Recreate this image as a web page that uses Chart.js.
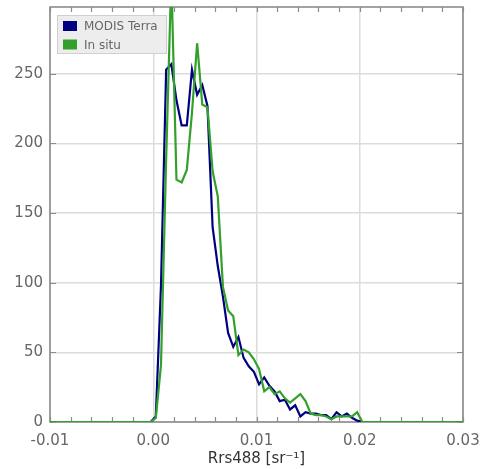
<!DOCTYPE html>
<html lang="en">
    <head>
        <meta charset="UTF-8">
        <title>Rrs488 histogram</title>
        <style>
            html, body { margin: 0; padding: 0; background: #fff; }
            .chart-container { position: relative; width: 481px; height: 469px; }
        </style>
    </head>
    <body>
        <div class="chart-container"><canvas id="chart"></canvas></div>

        <script src="https://cdn.jsdelivr.net/npm/chart.js@4.4.1/dist/chart.umd.min.js"></script>
        <script>
            // bin centres (sr^-1), with zero padding on both ends
            const binX = [-0.01, -0.00025,
                0.00025, 0.00075, 0.00125, 0.00175, 0.00225, 0.00275, 0.00325, 0.00375,
                0.00425, 0.00475, 0.00525, 0.00575, 0.00625, 0.00675, 0.00725, 0.00775,
                0.00825, 0.00875, 0.00925, 0.00975, 0.01025, 0.01075, 0.01125, 0.01175,
                0.01225, 0.01275, 0.01325, 0.01375, 0.01425, 0.01475, 0.01525, 0.01575,
                0.01625, 0.01675, 0.01725, 0.01775, 0.01825, 0.01875, 0.01925, 0.01975,
                0.02025, 0.03];

            const modisTerra = [0, 0,
                4, 98, 253, 257, 231, 213, 213, 253,
                235, 242, 227, 140, 112, 90, 64, 54,
                61, 46, 40, 36, 27, 32, 26, 22,
                15, 16, 9, 12, 4, 7, 6, 6,
                5, 5, 2, 7, 4, 6, 3, 1,
                0, 0];

            const inSitu = [0, 0,
                3, 41, 189, 320, 174, 172, 181, 222,
                272, 228, 226, 180, 162, 97, 80, 76,
                48, 52, 50, 45, 38, 22, 25, 20,
                22, 17, 14, 17, 20, 15, 6, 5,
                5, 4, 2, 4, 4, 4, 4, 7,
                0, 0];

            const seriesNames = ["MODIS Terra", "In situ"];
            const seriesColors = ["#000080", "#33a02c"];

            const xMajor = [-0.01, 0.0, 0.01, 0.02, 0.03];
            const xMinor = [-0.008, -0.006, -0.004, -0.002, 0.002, 0.004, 0.006, 0.008,
                0.012, 0.014, 0.016, 0.018, 0.022, 0.024, 0.026, 0.028];
            const yMajor = [0, 50, 100, 150, 200, 250];

            const FONT = "'DejaVu Sans', sans-serif";

            function pts(ys) {
                return binX.map((x, i) => ({ x: x, y: ys[i] }));
            }

            // frame, inward tick marks and the legend box
            const framePlugin = {
                id: "frame",
                beforeDatasetsDraw(chart) {
                    const ctx = chart.ctx;
                    const a = chart.chartArea;
                    const xs = chart.scales.x, ys = chart.scales.y;
                    ctx.save();
                    ctx.strokeStyle = "#8c8c8c";
                    ctx.lineWidth = 1.2;
                    xMajor.concat(xMinor).forEach(v => {
                        const px = Math.round(xs.getPixelForValue(v)) + 0.5;
                        ctx.beginPath();
                        ctx.moveTo(px, a.bottom); ctx.lineTo(px, a.bottom - 5);
                        ctx.moveTo(px, a.top); ctx.lineTo(px, a.top + 5);
                        ctx.stroke();
                    });
                    yMajor.forEach(v => {
                        const py = Math.round(ys.getPixelForValue(v)) + 0.5;
                        ctx.beginPath();
                        ctx.moveTo(a.left, py); ctx.lineTo(a.left + 6, py);
                        ctx.moveTo(a.right, py); ctx.lineTo(a.right - 6, py);
                        ctx.stroke();
                    });
                    ctx.lineWidth = 1.6;
                    ctx.strokeRect(a.left, a.top, a.right - a.left, a.bottom - a.top);
                    ctx.restore();
                },
                afterDatasetsDraw(chart) {
                    const ctx = chart.ctx;
                    const a = chart.chartArea;
                    const bx = a.left + 7, by = a.top + 8, bw = 110, bh = 39;
                    ctx.save();
                    ctx.fillStyle = "rgba(236,236,236,0.95)";
                    ctx.strokeStyle = "#d0d0d0";
                    ctx.lineWidth = 1;
                    ctx.fillRect(bx, by, bw, bh);
                    ctx.strokeRect(bx + 0.5, by + 0.5, bw - 1, bh - 1);
                    ctx.font = "12px " + FONT;
                    ctx.textBaseline = "middle";
                    chart.data.datasets.forEach((ds, i) => {
                        const cy = by + 11 + i * 18.5;
                        ctx.fillStyle = ds.borderColor;
                        ctx.fillRect(bx + 6, cy - 5, 14, 10);
                        ctx.fillStyle = "#666";
                        ctx.fillText(ds.label, bx + 27, cy + 1);
                    });
                    ctx.restore();
                }
            };

            new Chart(document.getElementById("chart"), {
                type: "line",
                data: {
                    datasets: [
                        {
                            label: seriesNames[0],
                            data: pts(modisTerra),
                            borderColor: seriesColors[0],
                            backgroundColor: seriesColors[0],
                            borderWidth: 2.2,
                            pointRadius: 0,
                            tension: 0,
                            order: 2
                        },
                        {
                            label: seriesNames[1],
                            data: pts(inSitu),
                            borderColor: seriesColors[1],
                            backgroundColor: seriesColors[1],
                            borderWidth: 2.2,
                            pointRadius: 0,
                            tension: 0,
                            order: 1
                        }
                    ]
                },
                options: {
                    responsive: true,
                    maintainAspectRatio: false,
                    animation: false,
                    layout: { padding: { top: 7, right: 18, left: 0, bottom: 0 } },
                    plugins: {
                        legend: { display: false },
                        tooltip: { enabled: false }
                    },
                    scales: {
                        x: {
                            type: "linear",
                            min: -0.01,
                            max: 0.03,
                            afterFit: s => {
                                s.height = 47;
                                s.paddingLeft = 0; s.paddingRight = 0;
                            },
                            afterBuildTicks: s => { s.ticks = xMajor.map(v => ({ value: v })); },
                            ticks: {
                                padding: 10,
                                color: "#666",
                                font: { family: FONT, size: 15 },
                                maxRotation: 0,
                                callback: v => v.toFixed(2)
                            },
                            grid: { color: "#dcdcdc", lineWidth: 1.5, drawTicks: false },
                            border: { display: false },
                            title: {
                                display: true,
                                text: "Rrs488 [sr⁻¹]",
                                color: "#333",
                                font: { family: FONT, size: 15 },
                                padding: { top: 0, bottom: 1 }
                            }
                        },
                        y: {
                            min: 0,
                            max: 298,
                            afterFit: s => {
                                s.width = 50;
                                s.paddingTop = 0; s.paddingBottom = 0;
                            },
                            afterBuildTicks: s => { s.ticks = yMajor.map(v => ({ value: v })); },
                            ticks: {
                                padding: 7,
                                color: "#666",
                                font: { family: FONT, size: 15 }
                            },
                            grid: { color: "#dcdcdc", lineWidth: 1.5, drawTicks: false },
                            border: { display: false }
                        }
                    }
                },
                plugins: [framePlugin]
            });
        </script>
    </body>
</html>
